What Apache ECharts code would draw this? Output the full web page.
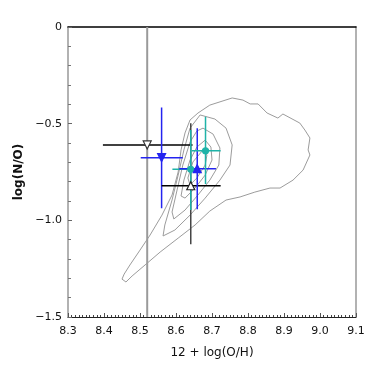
<!DOCTYPE html>
<html>
<head>
<meta charset="utf-8">
<script src="https://cdn.jsdelivr.net/npm/echarts@6/dist/echarts.min.js"></script>
<style>
  html, body { margin: 0; padding: 0; background: #fff; }
  #chart { width: 382px; height: 382px; }
</style>
</head>
<body>
<div id="chart"></div>
<script>
// axis ranges
const xMin = 8.3, xMax = 9.1, xStep = 0.1;
const yMin = -1.5, yMax = 0, yStep = 0.5;

// measured points: centre, x error range, y error range
const ptX = [8.52, 8.56, 8.641, 8.641, 8.659, 8.682];
const ptY = [-0.61, -0.676, -0.821, -0.736, -0.733, -0.64];
const xLo = [8.397, 8.502, 8.56, 8.59, 8.609, 8.644];
const xHi = [8.646, 8.619, 8.724, 8.667, 8.711, 8.724];
const yLo = [-1.5, -0.938, -1.124, -0.947, -0.943, -0.812];
const yHi = [0, -0.417, -0.498, -0.533, -0.524, -0.464];

// density contours (outer to inner)
const contour1 = [
  [8.694, -0.404], [8.756, -0.367], [8.786, -0.378], [8.806, -0.398], [8.828, -0.398],
  [8.853, -0.445], [8.883, -0.471], [8.897, -0.45], [8.944, -0.497], [8.958, -0.533],
  [8.972, -0.574], [8.967, -0.636], [8.972, -0.662], [8.953, -0.74], [8.925, -0.792],
  [8.889, -0.833], [8.861, -0.833], [8.819, -0.854], [8.778, -0.879], [8.739, -0.895],
  [8.694, -0.952], [8.653, -1.024], [8.606, -1.092], [8.556, -1.164], [8.514, -1.231],
  [8.478, -1.288], [8.461, -1.319], [8.45, -1.304], [8.456, -1.278], [8.472, -1.231],
  [8.5, -1.154], [8.528, -1.076], [8.561, -0.973], [8.589, -0.869], [8.606, -0.75],
  [8.614, -0.636], [8.625, -0.548], [8.639, -0.481], [8.661, -0.445], [8.694, -0.404]
];
const contour2 = [
  [8.667, -0.455], [8.708, -0.476], [8.739, -0.523], [8.756, -0.61], [8.75, -0.714],
  [8.722, -0.792], [8.681, -0.885], [8.639, -0.973], [8.597, -1.05], [8.564, -1.081],
  [8.569, -1.024], [8.589, -0.895], [8.606, -0.766], [8.622, -0.636], [8.639, -0.523],
  [8.667, -0.455]
];
const contour3 = [
  [8.675, -0.523], [8.703, -0.554], [8.722, -0.626], [8.719, -0.714], [8.694, -0.792],
  [8.661, -0.869], [8.625, -0.947], [8.594, -0.993], [8.589, -0.957], [8.603, -0.843],
  [8.619, -0.714], [8.639, -0.595], [8.658, -0.538], [8.675, -0.523]
];
const contour4 = [
  [8.681, -0.585], [8.697, -0.621], [8.7, -0.688], [8.681, -0.766], [8.653, -0.833],
  [8.625, -0.885], [8.614, -0.874], [8.622, -0.792], [8.639, -0.688], [8.658, -0.621],
  [8.681, -0.585]
];
const contour5 = [
  [8.675, -0.636], [8.686, -0.662], [8.681, -0.714], [8.658, -0.781], [8.639, -0.817],
  [8.633, -0.781], [8.647, -0.698], [8.675, -0.636]
];

// styles for each point
const hColor = ['#000', '#2424f0', '#000', '#1fb3a8', '#2424f0', '#1fb3a8'];
const vColor = ['#9a9a9a', '#2424f0', '#444', '#1fb3a8', '#2424f0', '#1fb3a8'];
const vWidth = [2, 1.5, 1.5, 1.5, 1.5, 1.5];
const mark = ['down', 'down', 'up', 'circle', 'up', 'circle'];
const fill = ['#fff', '#2424f0', '#fff', '#1fb3a8', '#2424f0', '#1fb3a8'];
const edge = ['#333', '#2424f0', '#222', '#1fb3a8', '#2424f0', '#1fb3a8'];

const chart = echarts.init(document.getElementById('chart'));

const series = [];
[contour1, contour2, contour3, contour4, contour5].forEach(function (c) {
  series.push({
    type: 'line', data: c, symbol: 'none', silent: true,
    lineStyle: { color: '#9c9c9c', width: 1 }
  });
});
// error bars
ptX.forEach(function (x, i) {
  series.push({
    type: 'line', data: [[x, yLo[i]], [x, yHi[i]]], symbol: 'none', silent: true,
    lineStyle: { color: vColor[i], width: vWidth[i] }
  });
  series.push({
    type: 'line', data: [[xLo[i], ptY[i]], [xHi[i], ptY[i]]], symbol: 'none', silent: true,
    lineStyle: { color: hColor[i], width: 1.5 }
  });
});
// markers
ptX.forEach(function (x, i) {
  series.push({
    type: 'scatter', data: [[x, ptY[i]]],
    symbol: mark[i] === 'circle' ? 'circle' : 'triangle',
    symbolRotate: mark[i] === 'down' ? 180 : 0,
    symbolSize: mark[i] === 'circle' ? 6 : 8,
    itemStyle: { color: fill[i], borderColor: edge[i], borderWidth: 1.2, opacity: 1 },
    z: 5
  });
});

const font = 'DejaVu Sans, sans-serif';

const option = {
  animation: false,
  backgroundColor: '#fff',
  grid: { left: 68, right: 26, top: 27, bottom: 65 },
  xAxis: [{
    type: 'value', min: xMin, max: xMax, interval: xStep, position: 'bottom',
    name: '12 + log(O/H)', nameLocation: 'middle', nameGap: 30,
    nameTextStyle: { fontFamily: font, fontSize: 12, color: '#111' },
    axisLine: { show: true, onZero: false, lineStyle: { color: '#222', width: 1 } },
    axisTick: { inside: true, length: 4, lineStyle: { color: '#555' } },
    minorTick: { show: true, splitNumber: 10, length: 2, lineStyle: { color: '#444' } },
    splitLine: { show: false },
    axisLabel: { fontFamily: font, fontSize: 11, color: '#111', margin: 9,
      formatter: function (v) { return v.toFixed(1); } }
  }, {
    type: 'value', position: 'top', min: xMin, max: xMax,
    axisLine: { show: true, onZero: false, lineStyle: { color: '#000', width: 1.5 } },
    axisTick: { show: false }, axisLabel: { show: false }, splitLine: { show: false }
  }],
  yAxis: [{
    type: 'value', min: yMin, max: yMax, interval: yStep, position: 'left',
    name: 'log(N/O)', nameLocation: 'middle', nameGap: 25,
    nameTextStyle: { fontFamily: font, fontSize: 12, fontWeight: 'bold', color: '#111' },
    axisLine: { show: true, onZero: false, lineStyle: { color: '#999', width: 1.5 } },
    axisTick: { inside: true, length: 4, lineStyle: { color: '#666' } },
    minorTick: { show: true, splitNumber: 5, length: 3, lineStyle: { color: '#777' } },
    splitLine: { show: false },
    axisLabel: { fontFamily: font, fontSize: 11, color: '#111', margin: 6,
      formatter: function (v) { return v === 0 ? '0' : '\u2212' + Math.abs(v).toFixed(1); } }
  }, {
    type: 'value', position: 'right', min: yMin, max: yMax,
    axisLine: { show: true, onZero: false, lineStyle: { color: '#999', width: 1.5 } },
    axisTick: { show: false }, axisLabel: { show: false }, splitLine: { show: false }
  }],
  series: series
};

chart.setOption(option);
</script>
</body>
</html>
